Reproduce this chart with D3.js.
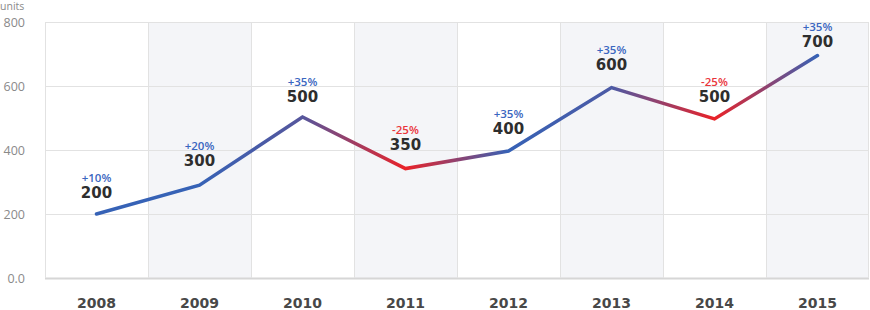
<!DOCTYPE html>
<html>
<head>
<meta charset="utf-8">
<script src="https://cdn.jsdelivr.net/npm/d3@7"></script>
<style>
  html, body { margin: 0; padding: 0; background: #fff; }
  svg { display: block; }
</style>
</head>
<body>
<div id="chart"></div>
<script>
// Chart data
const years = ['2008', '2009', '2010', '2011', '2012', '2013', '2014', '2015'];
const values = [200, 290, 503, 342, 397, 595, 497, 695];      // line as drawn
const labels = [200, 300, 500, 350, 400, 600, 500, 700];      // value labels
const changes = ['+10%', '+20%', '+35%', '-25%', '+35%', '+35%', '-25%', '+35%'];
const yTicks = [0, 200, 400, 600, 800];

const width = 870;
const height = 310;
const margin = { top: 22, right: 1, bottom: 32, left: 45 };

const BLUE = '#3662b6';
const RED = '#ea2228';

const svg = d3.select('#chart')
  .append('svg')
  .attr('width', width)
  .attr('height', height);

const x = d3.scaleBand()
  .domain(years)
  .range([margin.left, width - margin.right])
  .paddingInner(0)
  .paddingOuter(0);

const y = d3.scaleLinear()
  .domain([0, 800])
  .range([height - margin.bottom, margin.top]);

const cx = d => x(d) + x.bandwidth() / 2;

// Alternating background bands
svg.append('g')
  .selectAll('rect')
  .data(years.filter((d, i) => i % 2 === 1))
  .enter()
  .append('rect')
  .attr('x', d => x(d))
  .attr('y', y(800))
  .attr('width', x.bandwidth())
  .attr('height', y(0) - y(800))
  .attr('fill', '#f4f5f8');

// Horizontal grid
svg.append('g')
  .selectAll('line')
  .data(yTicks)
  .enter()
  .append('line')
  .attr('x1', margin.left).attr('x2', width - margin.right)
  .attr('y1', d => y(d) + 0.5).attr('y2', d => y(d) + 0.5)
  .attr('stroke', d => d === 0 ? '#d6d6d6' : '#e2e2e2')
  .attr('stroke-width', d => d === 0 ? 2 : 1);

// Vertical separators
svg.append('g')
  .selectAll('line')
  .data(years.concat(['end']))
  .enter()
  .append('line')
  .attr('x1', (d, i) => i < years.length ? Math.round(x(d)) + 0.5 : width - margin.right - 0.5)
  .attr('x2', (d, i) => i < years.length ? Math.round(x(d)) + 0.5 : width - margin.right - 0.5)
  .attr('y1', y(800)).attr('y2', y(0))
  .attr('stroke', '#e2e2e2')
  .attr('stroke-width', 1);

// Y axis labels
svg.append('g')
  .selectAll('text')
  .data(yTicks)
  .enter()
  .append('text')
  .attr('x', 25)
  .attr('y', d => y(d) + 1)
  .attr('dy', '0.35em')
  .attr('text-anchor', 'end')
  .attr('fill', '#8a8a8a')
  .attr('font-size', '12.5px')
  .attr('font-family', 'Open Sans, sans-serif')
  .text(d => d === 0 ? '0.0' : d);

svg.append('text')
  .attr('x', 0)
  .attr('y', 6.5)
  .attr('dy', '0.35em')
  .attr('text-anchor', 'start')
  .attr('fill', '#8a8a8a')
  .attr('font-size', '10.5px')
  .attr('font-family', 'Open Sans, sans-serif')
  .text('units');

// X axis labels
svg.append('g')
  .selectAll('text')
  .data(years)
  .enter()
  .append('text')
  .attr('x', d => cx(d))
  .attr('y', 303)
  .attr('dy', '0.35em')
  .attr('text-anchor', 'middle')
  .attr('fill', '#484848')
  .attr('font-size', '14px')
  .attr('font-weight', 'bold')
  .attr('font-family', 'DejaVu Sans, sans-serif')
  .text(d => d);

// Gradient along the line: blue for rises, red for drops
const mix = d3.interpolateRgb(BLUE, RED);
const stopColors = [BLUE, BLUE, mix(0.18), RED, BLUE, mix(0.12), RED, BLUE];
const x0 = cx(years[0]);
const x1 = cx(years[years.length - 1]);

const grad = svg.append('defs')
  .append('linearGradient')
  .attr('id', 'line-grad')
  .attr('gradientUnits', 'userSpaceOnUse')
  .attr('x1', x0).attr('x2', x1)
  .attr('y1', 0).attr('y2', 0);

grad.selectAll('stop')
  .data(years)
  .enter()
  .append('stop')
  .attr('offset', d => (cx(d) - x0) / (x1 - x0))
  .attr('stop-color', (d, i) => stopColors[i]);

const line = d3.line()
  .x((d, i) => cx(years[i]))
  .y(d => y(d));

svg.append('path')
  .datum(values)
  .attr('d', line)
  .attr('fill', 'none')
  .attr('stroke', 'url(#line-grad)')
  .attr('stroke-width', 3.5)
  .attr('stroke-linecap', 'round')
  .attr('stroke-linejoin', 'miter');

// Value + change labels
const labelY = v => Math.max(y(v) - 21, 42);

svg.append('g')
  .selectAll('text')
  .data(labels)
  .enter()
  .append('text')
  .attr('x', (d, i) => cx(years[i]))
  .attr('y', d => labelY(d))
  .attr('dy', '0.35em')
  .attr('text-anchor', 'middle')
  .attr('fill', '#2e2e2e')
  .attr('font-size', '15px')
  .attr('font-weight', 'bold')
  .attr('font-family', 'DejaVu Sans, sans-serif')
  .text(d => d);

svg.append('g')
  .selectAll('text')
  .data(changes)
  .enter()
  .append('text')
  .attr('x', (d, i) => cx(years[i]))
  .attr('y', (d, i) => labelY(labels[i]) - 15.5)
  .attr('dy', '0.35em')
  .attr('text-anchor', 'middle')
  .attr('fill', d => d.startsWith('-') ? '#ea343b' : '#3a66c0')
  .attr('font-size', '11.5px')
  .attr('font-weight', 600)
  .attr('font-family', 'Open Sans, sans-serif')
  .text(d => d);
</script>
</body>
</html>
